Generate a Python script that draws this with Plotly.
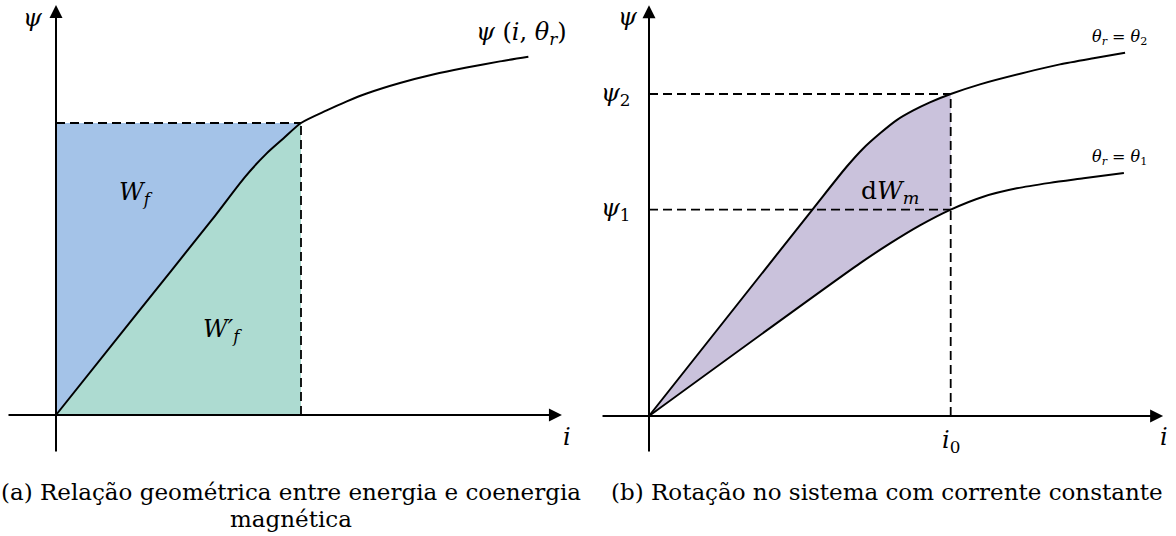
import plotly.graph_objects as go

# ---------------------------------------------------------------------------
# Curva de magnetização psi(i, theta_r) -- painel (a)
# (corrente normalizada pelo ponto de operação i = 1, fluxo por psi = 1)
# ---------------------------------------------------------------------------
mag_i = [0.0, 0.322, 0.636, 0.771, 0.860, 0.928, 1.000, 1.105, 1.187,
         1.268, 1.404, 1.539, 1.676, 1.812, 1.928]
mag_psi = [0.0, 0.339, 0.668, 0.815, 0.896, 0.947, 1.000, 1.043, 1.074,
           1.101, 1.137, 1.166, 1.190, 1.211, 1.227]
op_i = 1.0      # corrente do ponto de operação
op_psi = 1.0    # fluxo do ponto de operação

# ---------------------------------------------------------------------------
# Painel (b): duas posições do rotor, theta_r = theta_2 e theta_r = theta_1
# ---------------------------------------------------------------------------
th2_i = [0.0, 0.545, 0.655, 0.710, 0.766, 0.821, 0.876, 0.931, 1.000,
         1.097, 1.252, 1.362, 1.473, 1.578]
th2_psi = [0.0, 0.645, 0.774, 0.831, 0.878, 0.919, 0.949, 0.974, 1.000,
           1.030, 1.068, 1.092, 1.111, 1.128]
th1_i = [0.0, 0.699, 0.799, 0.898, 1.000, 1.108, 1.219, 1.329, 1.440, 1.574]
th1_psi = [0.0, 0.474, 0.536, 0.592, 0.641, 0.681, 0.707, 0.724, 0.738, 0.755]
i0 = 1.0
psi2 = 1.0
psi1 = 0.641

captions = ["(a) Relação geométrica entre energia e coenergia", "magnética",
            "(b) Rotação no sistema com corrente constante"]

# ---------------------------------------------------------------------------
W, H = 1176, 536
SERIF = "DejaVu Serif, Liberation Serif, serif"
BLACK = "#000000"
BLUE_FILL = "#A4C3E8"
GREEN_FILL = "#ADDBD1"
PURPLE_FILL = "#CAC2DC"
DASH = "9px,5px"
SMOOTH = 0.7

fig = go.Figure()


def line(x, y, xa, ya, dash=None, shape="linear", width=2.0):
    fig.add_trace(go.Scatter(
        x=x, y=y, mode="lines", xaxis=xa, yaxis=ya, hoverinfo="skip",
        line=dict(color=BLACK, width=width, dash=dash, shape=shape,
                  smoothing=SMOOTH if shape == "spline" else None)))


def area(x, y, xa, ya, color):
    fig.add_trace(go.Scatter(
        x=x, y=y, mode="lines", fill="toself", fillcolor=color,
        xaxis=xa, yaxis=ya, hoverinfo="skip", line=dict(width=0)))


# ----- painel (a) -----------------------------------------------------------
k = mag_i.index(op_i)
lower_i, lower_psi = mag_i[:k + 1], mag_psi[:k + 1]
# energia W_f: entre a curva e o eixo psi
area(lower_i + [0.0], lower_psi + [op_psi], "x", "y", BLUE_FILL)
# coenergia W'_f: entre a curva e o eixo i
area(lower_i + [op_i], lower_psi + [0.0], "x", "y", GREEN_FILL)
line([0.0, op_i], [op_psi, op_psi], "x", "y", dash=DASH, width=1.8)
line([op_i, op_i], [0.0, op_psi], "x", "y", dash=DASH, width=1.8)
line(mag_i, mag_psi, "x", "y", shape="spline")

# ----- painel (b) -----------------------------------------------------------
k2 = th2_i.index(i0)
k1 = th1_i.index(i0)
area(th2_i[:k2 + 1] + th1_i[:k1 + 1][::-1],
     th2_psi[:k2 + 1] + th1_psi[:k1 + 1][::-1], "x2", "y2", PURPLE_FILL)
line([0.0, i0], [psi2, psi2], "x2", "y2", dash=DASH, width=1.8)
line([0.0, i0], [psi1, psi1], "x2", "y2", dash=DASH, width=1.8)
line([i0, i0], [0.0, psi2], "x2", "y2", dash=DASH, width=1.8)
line(th2_i, th2_psi, "x2", "y2", shape="spline")
line(th1_i, th1_psi, "x2", "y2", shape="spline")

# ----- eixos desenhados à mão (setas) ---------------------------------------
annotations = []


def arrow(xa, ya, x, y, ax, ay):
    annotations.append(dict(
        xref=xa, yref=ya, axref=xa, ayref=ya, x=x, y=y, ax=ax, ay=ay,
        text="", showarrow=True, arrowhead=2, arrowsize=1.3,
        arrowwidth=2, arrowcolor=BLACK, standoff=0, startstandoff=0,
        font=dict(family=SERIF, size=12, color=BLACK)))


arrow("x", "y", 2.065, 0.0, -0.200, 0.0)
arrow("x", "y", 0.0, 1.404, 0.0, -0.130)
arrow("x2", "y2", 1.704, 0.0, -0.159, 0.0)
arrow("x2", "y2", 0.0, 1.276, 0.0, -0.115)


def label(xa, ya, x, y, text, size=24, xanchor="center", yanchor="middle",
          xshift=0, yshift=0):
    annotations.append(dict(
        xref=xa, yref=ya, x=x, y=y, text=text, showarrow=False,
        xanchor=xanchor, yanchor=yanchor, xshift=xshift, yshift=yshift,
        font=dict(family=SERIF, size=size, color=BLACK)))


# rótulos do painel (a)
label("x", "y", 0.0, 1.360, "<i>ψ</i>", xshift=-23)
label("x", "y", 1.898, 1.308, "<i>ψ</i> (<i>i</i>, <i>θ</i><sub><i>r</i></sub>)")
label("x", "y", 0.327, 0.760, "<i>W</i><sub><i>f</i></sub>")
label("x", "y", 0.678, 0.291, "<i>W′</i><sub><i>f</i></sub>")
label("x", "y", 2.086, -0.075, "<i>i</i>")

# rótulos do painel (b)
label("x2", "y2", 0.0, 1.239, "<i>ψ</i>", xshift=-21)
label("x2", "y2", 0.0, psi2, "<i>ψ</i><sub>2</sub>", xanchor="right", xshift=-16)
label("x2", "y2", 0.0, psi1, "<i>ψ</i><sub>1</sub>", xanchor="right", xshift=-16)
label("x2", "y2", 0.799, 0.696, "d<i>W</i><sub><i>m</i></sub>", size=25)
label("x2", "y2", i0, 0.0, "<i>i</i><sub>0</sub>", yshift=-25)
label("x2", "y2", 1.707, -0.065, "<i>i</i>")
label("x2", "y2", 1.561, 1.174,
      "<i>θ</i><sub><i>r</i></sub> = <i>θ</i><sub>2</sub>", size=16)
label("x2", "y2", 1.561, 0.804,
      "<i>θ</i><sub><i>r</i></sub> = <i>θ</i><sub>1</sub>", size=16)

# legendas das subfiguras
label("paper", "paper", 291 / W, 1 - 492 / H, captions[0], size=23)
label("paper", "paper", 291 / W, 1 - 519 / H, captions[1], size=23)
label("paper", "paper", 887 / W, 1 - 492 / H, captions[2], size=23)

# ----- escalas: cada painel ocupa metade da largura --------------------------
split = 590 / W
hidden = dict(visible=False, showgrid=False, zeroline=False, fixedrange=True)
fig.update_layout(
    width=W, height=H, margin=dict(l=0, r=0, t=0, b=0),
    paper_bgcolor="white", plot_bgcolor="white", showlegend=False,
    xaxis=dict(domain=[0, split], range=[-56 / 245, 534 / 245], **hidden),
    yaxis=dict(domain=[0, 1], range=[-121 / 292, 415 / 292], **hidden),
    xaxis2=dict(domain=[split, 1], range=[-59 / 301.7, 527 / 301.7], **hidden),
    yaxis2=dict(domain=[0, 1], range=[-120 / 322, 416 / 322], anchor="x2",
                **hidden),
    annotations=annotations,
)

fig.write_html("out.html")
